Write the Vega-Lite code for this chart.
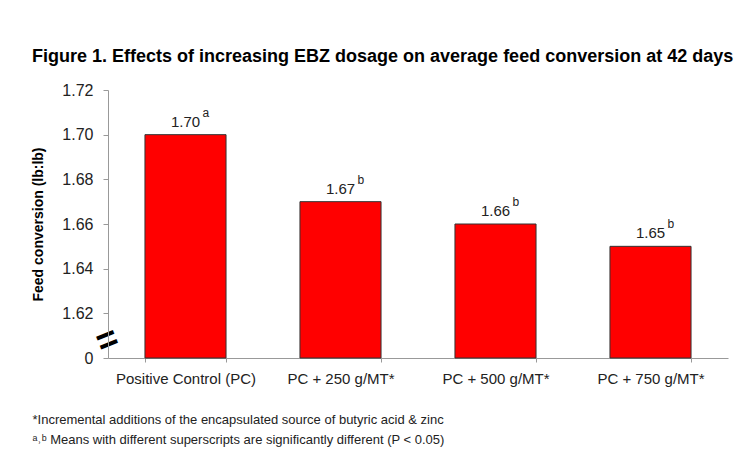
{
  "$schema": "https://vega.github.io/schema/vega-lite/v6.json",
  "autosize": "none",
  "width": 620,
  "height": 268,
  "padding": {"left": 108, "top": 90, "right": 22, "bottom": 108},
  "background": "white",
  "title": {
    "text": "Figure 1. Effects of increasing EBZ dosage on average feed conversion at 42 days",
    "anchor": "start",
    "frame": "group",
    "dx": -76,
    "offset": 2,
    "baseline": "alphabetic",
    "font": "Liberation Sans",
    "fontSize": 18,
    "fontWeight": "bold",
    "color": "#000000"
  },
  "data": {
    "values": [
      {"group": "Positive Control (PC)", "fcr": 1.70, "label": "1.70", "sup": "a"},
      {"group": "PC + 250 g/MT*", "fcr": 1.67, "label": "1.67", "sup": "b"},
      {"group": "PC + 500 g/MT*", "fcr": 1.66, "label": "1.66", "sup": "b"},
      {"group": "PC + 750 g/MT*", "fcr": 1.65, "label": "1.65", "sup": "b"}
    ]
  },
  "encoding": {
    "x": {
      "field": "group",
      "type": "nominal",
      "sort": null,
      "scale": {"paddingInner": 0.477, "paddingOuter": 0.2385},
      "axis": {
        "title": [
          "*Incremental additions of the encapsulated source of butyric acid & zinc",
          "ᵃ˒ᵇ Means with different superscripts are significantly different (P < 0.05)"
        ],
        "titleAnchor": "start",
        "titleAlign": "left",
        "titleX": -76,
        "titleY": 65,
        "titleBaseline": "alphabetic",
        "titleFont": "Liberation Sans",
        "titleFontSize": 13,
        "titleFontWeight": "normal",
        "titleColor": "#222222",
        "titleLineHeight": 20,
        "labelAngle": 0,
        "labelFont": "Liberation Sans",
        "labelFontSize": 15,
        "labelColor": "#222222",
        "labelPadding": 9,
        "tickBand": "extent",
        "tickSize": 4,
        "tickColor": "#999999",
        "domainColor": "#999999"
      }
    },
    "y": {
      "field": "fcr",
      "type": "quantitative",
      "scale": {"domain": [1.6, 1.72], "zero": false, "nice": false},
      "axis": {
        "title": "Feed conversion (lb:lb)",
        "titleFont": "Liberation Sans",
        "titleFontSize": 14,
        "titleFontWeight": "bold",
        "titleColor": "#000000",
        "titleX": -66,
        "titleBaseline": "alphabetic",
        "values": [1.6, 1.608, 1.62, 1.64, 1.66, 1.68, 1.7, 1.72],
        "labelExpr": "datum.value == 1.608 ? '=' : (datum.value < 1.605 ? '0' : format(datum.value, '.2f'))",
        "labelOverlap": false,
        "labelBound": false,
        "labelFont": "Liberation Sans",
        "labelAngle": {"expr": "datum.value == 1.608 ? -22 : 0"},
        "labelBaseline": "middle",
        "labelFontSize": {"condition": {"test": "datum.value == 1.608", "value": 36}, "value": 16},
        "labelFontWeight": {"condition": {"test": "datum.value == 1.608", "value": "bold"}, "value": "normal"},
        "labelColor": {"condition": {"test": "datum.value == 1.608", "value": "#000000"}, "value": "#222222"},
        "labelAlign": {"condition": {"test": "datum.value == 1.608", "value": "center"}, "value": "right"},
        "labelPadding": {"condition": {"test": "datum.value == 1.608", "value": -4}, "value": 10},
        "tickOpacity": {"condition": {"test": "datum.value == 1.608", "value": 0}, "value": 1},
        "tickSize": 5,
        "tickColor": "#999999",
        "domainColor": "#999999",
        "grid": false
      }
    }
  },
  "layer": [
    {
      "mark": {"type": "bar", "fill": "#FF0000", "stroke": "#333333", "strokeWidth": 1},
      "encoding": {"y2": {"datum": 1.6}}
    },
    {
      "mark": {"type": "text", "baseline": "alphabetic", "dy": -8, "font": "Liberation Sans", "fontSize": 15, "color": "#222222"},
      "encoding": {"text": {"field": "label"}}
    },
    {
      "mark": {"type": "text", "align": "left", "baseline": "alphabetic", "dx": 17, "dy": -18, "font": "Liberation Sans", "fontSize": 12, "color": "#222222"},
      "encoding": {"text": {"field": "sup"}}
    }
  ],
  "config": {"view": {"stroke": null}}
}
